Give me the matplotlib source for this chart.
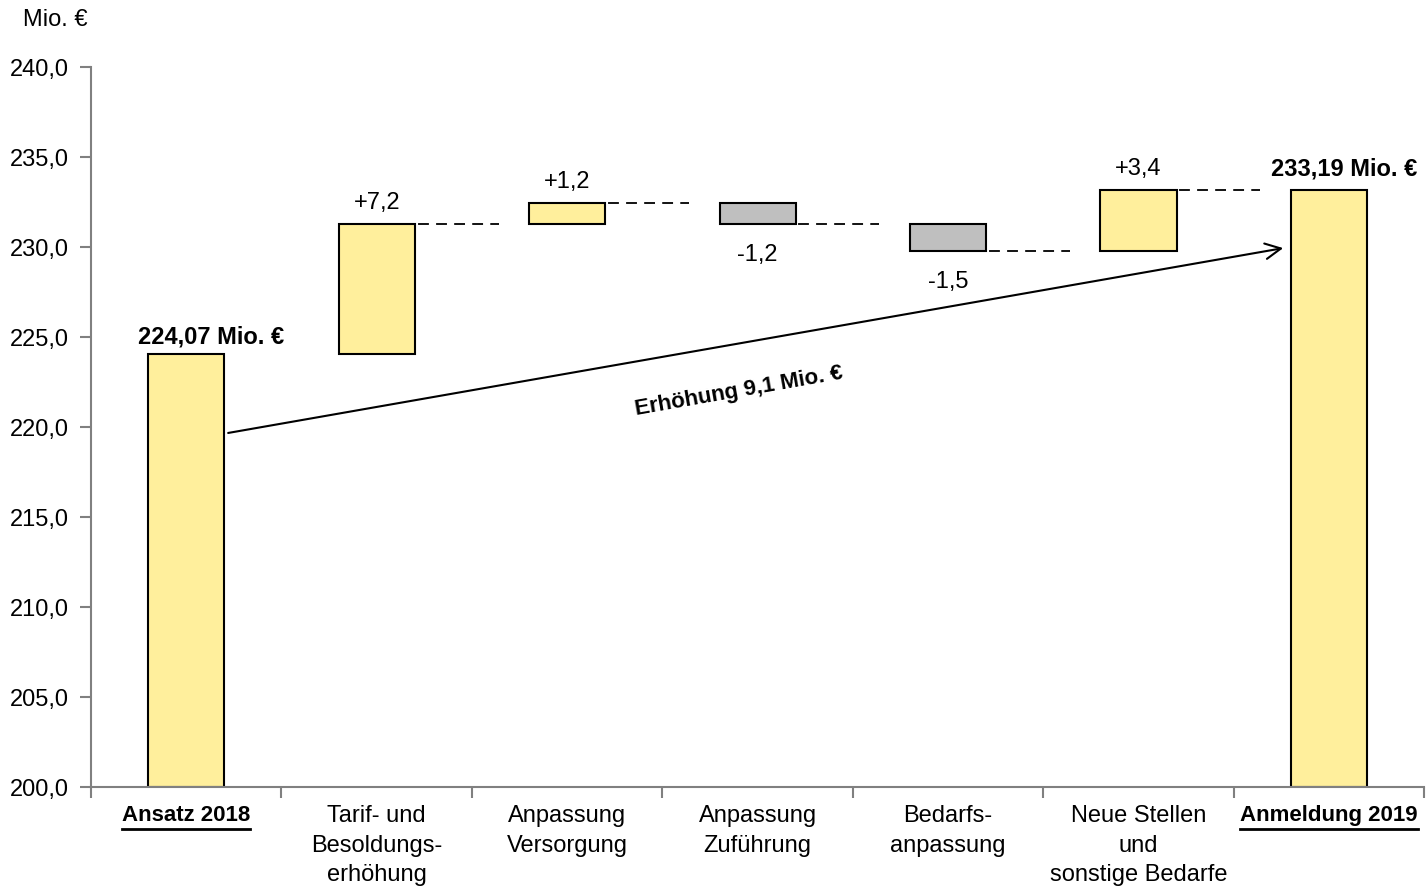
import matplotlib
matplotlib.use("Agg")
import matplotlib.pyplot as plt
from matplotlib.lines import Line2D

plt.rcParams['font.family'] = ['Liberation Sans Narrow', 'Liberation Sans', 'DejaVu Sans']

# Daten (Mio. €)
kategorien = ["Ansatz 2018", "Tarif- und\nBesoldungs-\nerhöhung", "Anpassung\nVersorgung",
              "Anpassung\nZuführung", "Bedarfs-\nanpassung", "Neue Stellen\nund\nsonstige Bedarfe",
              "Anmeldung 2019"]
start_wert = 224.07
aenderungen = [7.2, 1.2, -1.2, -1.5, 3.4]
end_wert = 233.19
aend_labels = ["+7,2", "+1,2", "-1,2", "-1,5", "+3,4"]
summen_labels = ["224,07 Mio. €", "233,19 Mio. €"]
yticks = [200, 205, 210, 215, 220, 225, 230, 235, 240]

gelb = "#FFEF9C"
grau = "#BFBFBF"
fs = 16

fig = plt.figure(figsize=(14.27, 8.9), dpi=100)
ax = fig.add_axes([0.0638, 0.1157, 0.9342, 0.809])

w = 0.4
# Anfangssaeule
ax.bar(0, start_wert - 200, bottom=200, width=w, color=gelb, edgecolor="black", linewidth=1.5, zorder=2)
ax.text(0.13, start_wert + 0.3, summen_labels[0], ha="center", va="bottom", fontsize=fs + 1, fontweight="bold")

level = start_wert
for i, d in enumerate(aenderungen):
    x = i + 1
    unten = min(level, level + d)
    ax.bar(x, abs(d), bottom=unten, width=w, color=gelb if d > 0 else grau,
           edgecolor="black", linewidth=1.5, zorder=2)
    if d > 0:
        ax.text(x, level + d + 0.55, aend_labels[i], ha="center", va="bottom", fontsize=fs + 1)
    else:
        ax.text(x, level + d - 1.1, aend_labels[i], ha="center", va="top", fontsize=fs + 1)
    level = level + d
    # gestrichelte Verbindung
    ax.plot([x + 0.12, x + 1 - 0.36], [level, level], ls=(0, (6, 4)), color="black", lw=1.3, zorder=3)

# Endsaeule
ax.bar(6, end_wert - 200, bottom=200, width=w, color=gelb, edgecolor="black", linewidth=1.5, zorder=2)
ax.text(6.08, end_wert + 0.5, summen_labels[1], ha="center", va="bottom", fontsize=fs + 1, fontweight="bold")

# Pfeil
ax.annotate("", xy=(5.76, 229.94), xytext=(0.22, 219.67),
            arrowprops=dict(arrowstyle="->", color="black", lw=1.5, mutation_scale=28,
                            shrinkA=0, shrinkB=0), zorder=4)
ax.text(2.9, 222.0, "Erhöhung 9,1 Mio. €", rotation=10, ha="center", va="center",
        fontsize=fs, fontweight="bold", rotation_mode="anchor")

ax.set_xlim(-0.5, 6.5)
ax.set_ylim(200, 240)
ax.set_yticks(yticks)
ax.set_yticklabels([f"{v:.1f}".replace(".", ",") for v in yticks], fontsize=fs + 1)
ax.set_xticks(range(7))
ax.set_xticklabels(kategorien, fontsize=fs + 1, linespacing=1.45)
ax.set_xticks([i - 0.5 for i in range(8)], minor=True)
ax.tick_params(axis="x", which="major", length=0, pad=13)
ax.tick_params(axis="x", which="minor", length=8, color="#808080", width=1.5)
ax.tick_params(axis="y", length=8, color="#808080", width=1.5, pad=8)
for s in ["top", "right"]:
    ax.spines[s].set_visible(False)
for s in ["left", "bottom"]:
    ax.spines[s].set_color("#808080")
    ax.spines[s].set_linewidth(1.5)

labels = ax.get_xticklabels()
for idx in (0, 6):
    labels[idx].set_fontweight("bold")
    labels[idx].set_fontsize(fs)

fig.text(0.016, 0.977, "Mio. €", fontsize=fs + 1, ha="left", va="center")

# Unterstreichung der Summen-Beschriftungen
fig.canvas.draw()
r = fig.canvas.get_renderer()
for idx in (0, 6):
    bb = labels[idx].get_window_extent(renderer=r)
    yy = (bb.y0 - 3) / fig.bbox.height
    fig.add_artist(Line2D([bb.x0 / fig.bbox.width, bb.x1 / fig.bbox.width], [yy, yy],
                          color="black", lw=2))

fig.savefig("out.png", dpi=100)
